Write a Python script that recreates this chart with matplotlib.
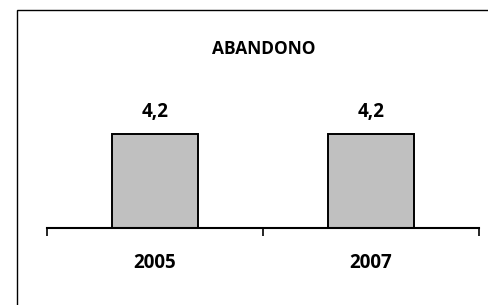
import matplotlib
matplotlib.use("Agg")
import matplotlib.pyplot as plt
from matplotlib.patches import Rectangle

categories = ["2005", "2007"]
values = [4.2, 4.2]
value_labels = ["4,2", "4,2"]
title = "ABANDONO"

W, H = 489, 305
fig = plt.figure(figsize=(W / 100, H / 100), dpi=100)
fig.patch.set_facecolor("white")

font = ["Open Sans", "DejaVu Sans"]

# figure border (only top and left visible; right and bottom run off the canvas)
fig.patches.append(Rectangle((17 / W, -0.05), 1.1, 1.05 - 10 / H,
                             transform=fig.transFigure, fill=False,
                             edgecolor="black", linewidth=1.0))

ymax = 7.0
px_per_unit = 94 / 4.2
ax_h = ymax * px_per_unit
ax = fig.add_axes([47 / W, (H - 228) / H, 432 / W, ax_h / H])
x = range(len(categories))
ax.bar(x, values, width=0.4, color="#C0C0C0", edgecolor="black", linewidth=1.4)
ax.set_xlim(-0.5, len(categories) - 0.5)
ax.set_ylim(0, ymax)
for s in ["top", "right", "left"]:
    ax.spines[s].set_visible(False)
ax.spines["bottom"].set_linewidth(1.5)
ax.set_yticks([])
ax.set_xticks([-0.5, 0.5, 1.5], minor=False)
ax.set_xticklabels([])
ax.tick_params(axis="x", length=6, width=1.2, direction="out")
for i, c in enumerate(categories):
    ax.text(i, -1.55, c, ha="center", va="center", fontsize=13.5,
            fontweight="bold", family=font)
for i, (v, lab) in enumerate(zip(values, value_labels)):
    ax.text(i, v + 1.0, lab, ha="center", va="center", fontsize=13.5,
            fontweight="bold", family=font)

fig.text(264 / W, 1 - 49 / H, title, ha="center", va="center", fontsize=12.5,
         fontweight="bold", family=font)

fig.savefig("out.png", dpi=100)
